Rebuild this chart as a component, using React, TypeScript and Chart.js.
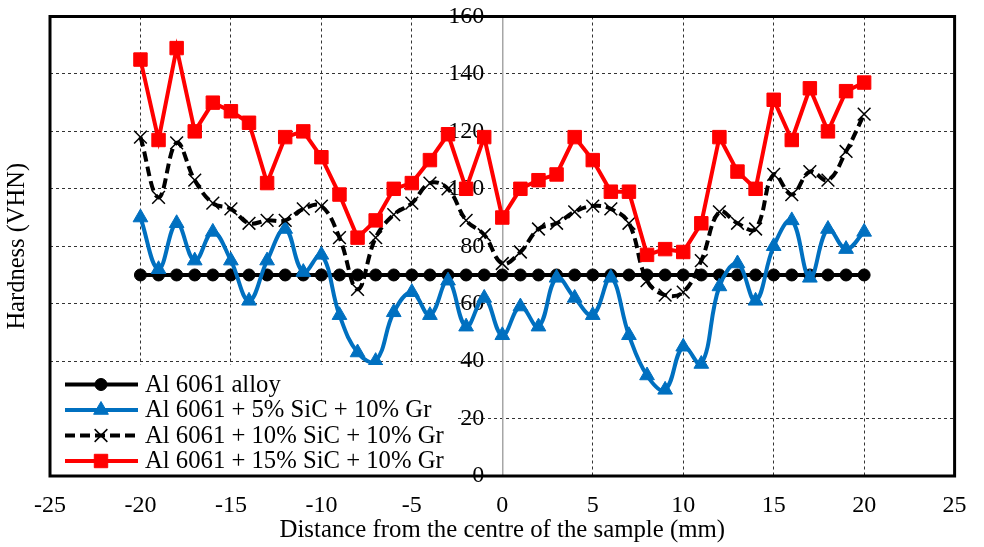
import React, { useEffect, useRef } from 'react';
import { Chart, registerables } from 'chart.js';

Chart.register(...registerables);

// Distance from the centre (mm)
const distances = [
  -20, -19, -18, -17, -16, -15, -14, -13, -12, -11,
  -10, -9, -8, -7, -6, -5, -4, -3, -2, -1,
  0,
  1, 2, 3, 4, 5, 6, 7, 8, 9, 10,
  11, 12, 13, 14, 15, 16, 17, 18, 19, 20,
];

const seriesLabels = [
  'Al 6061 alloy',
  'Al 6061 + 5% SiC + 10% Gr',
  'Al 6061 + 10% SiC + 10% Gr',
  'Al 6061 + 15% SiC + 10% Gr',
];

const alloy = [
  70, 70, 70, 70, 70, 70, 70, 70, 70, 70,
  70, 70, 70, 70, 70, 70, 70, 70, 70, 70,
  70,
  70, 70, 70, 70, 70, 70, 70, 70, 70, 70,
  70, 70, 70, 70, 70, 70, 70, 70, 70, 70,
];

const sic5 = [
  90, 72, 88, 75, 85, 75, 61, 75, 86, 71,
  77, 56, 43, 40, 57, 64, 56, 68, 52, 62,
  49,
  59, 52, 69, 62, 56, 69, 49, 35, 30, 45,
  39, 66, 74, 61, 80, 89, 69, 86, 79, 85,
];

const sic10 = [
  118, 97, 116, 103, 95, 93, 88, 89, 89, 93,
  94, 83, 65, 83, 91, 95, 102, 100, 89, 84,
  74,
  78, 86, 88, 92, 94, 93, 88, 68, 63, 64,
  75, 92, 88, 86, 105, 98, 106, 103, 113, 126,
];

const sic15 = [
  145, 117, 149, 120, 130, 127, 123, 102, 118, 120,
  111, 98, 83, 89, 100, 102, 110, 119, 100, 118,
  90,
  100, 103, 105, 118, 110, 99, 99, 77, 79, 78,
  88, 118, 106, 100, 131, 117, 135, 120, 134, 137,
];

const xTitle = 'Distance from the centre of the sample (mm)';
const yTitle = 'Hardness (VHN)';

const SERIF = "'Liberation Serif', 'Times New Roman', serif";

const toPoints = (ys: number[]) => ys.map((y, i) => ({ x: distances[i], y }));

function drawMarker(ctx: CanvasRenderingContext2D, ds: any, x: number, y: number) {
  const r = ds.pointRadius;
  const style = ds.pointStyle;
  ctx.save();
  ctx.setLineDash([]);
  ctx.fillStyle = ds.pointBackgroundColor;
  ctx.strokeStyle = ds.pointBorderColor;
  ctx.lineWidth = ds.pointBorderWidth;
  ctx.beginPath();
  if (style === 'circle') {
    ctx.arc(x, y, r, 0, Math.PI * 2);
    ctx.fill();
    ctx.stroke();
  } else if (style === 'triangle') {
    ctx.moveTo(x, y - r);
    ctx.lineTo(x + r * 0.866, y + r / 2);
    ctx.lineTo(x - r * 0.866, y + r / 2);
    ctx.closePath();
    ctx.fill();
    ctx.stroke();
  } else if (style === 'rect') {
    const s = r * Math.SQRT1_2;
    ctx.rect(x - s, y - s, 2 * s, 2 * s);
    ctx.fill();
    ctx.stroke();
  } else if (style === 'crossRot') {
    const d = r * Math.SQRT1_2;
    ctx.moveTo(x - d, y - d);
    ctx.lineTo(x + d, y + d);
    ctx.moveTo(x + d, y - d);
    ctx.lineTo(x - d, y + d);
    ctx.stroke();
  }
  ctx.restore();
}

const legendPlugin = {
  id: 'insideLegend',
  afterDatasetsDraw(chart: any) {
    const { ctx, chartArea } = chart;
    const left = chartArea.left;
    const boxTop = chartArea.bottom - 111;
    ctx.save();
    ctx.fillStyle = '#ffffff';
    ctx.fillRect(left, boxTop, 405, chartArea.bottom - boxTop);
    const order = [0, 1, 2, 3];
    order.forEach((idx, row) => {
      const ds = chart.data.datasets[idx];
      const y = chartArea.bottom - 91.5 + row * 25.5;
      ctx.save();
      ctx.strokeStyle = ds.borderColor;
      ctx.lineWidth = ds.borderWidth;
      ctx.setLineDash(ds.borderDash || []);
      ctx.beginPath();
      ctx.moveTo(left + 15, y);
      ctx.lineTo(left + 88, y);
      ctx.stroke();
      ctx.restore();
      drawMarker(ctx, ds, left + 51, y);
      ctx.fillStyle = '#000';
      ctx.font = `24.7px ${SERIF}`;
      ctx.textBaseline = 'middle';
      ctx.textAlign = 'left';
      ctx.fillText(ds.label, left + 95, y + 1);
    });
    ctx.restore();
  },
};

const framePlugin = {
  id: 'frame',
  afterDraw(chart: any) {
    const { ctx, chartArea } = chart;
    ctx.save();
    ctx.strokeStyle = '#000';
    ctx.lineWidth = 3;
    ctx.setLineDash([]);
    ctx.strokeRect(chartArea.left, chartArea.top, chartArea.right - chartArea.left, chartArea.bottom - chartArea.top);
    ctx.restore();
  },
};

export default function App() {
  const ref = useRef<HTMLCanvasElement>(null);

  useEffect(() => {
    if (!ref.current) return;
    const chart = new Chart(ref.current, {
      type: 'line',
      data: {
        datasets: [
          {
            label: seriesLabels[0],
            data: toPoints(alloy),
            borderColor: '#000000',
            backgroundColor: '#000000',
            borderWidth: 4,
            pointStyle: 'circle',
            pointRadius: 6,
            pointBackgroundColor: '#000000',
            pointBorderColor: '#000000',
            pointBorderWidth: 1,
            tension: 0,
            order: 4,
          },
          {
            label: seriesLabels[1],
            data: toPoints(sic5),
            borderColor: '#0070C0',
            backgroundColor: '#0070C0',
            borderWidth: 4,
            pointStyle: 'triangle',
            pointRadius: 8.5,
            pointBackgroundColor: '#0070C0',
            pointBorderColor: '#0070C0',
            pointBorderWidth: 1,
            tension: 0.4,
            order: 3,
          },
          {
            label: seriesLabels[2],
            data: toPoints(sic10),
            borderColor: '#000000',
            backgroundColor: '#000000',
            borderWidth: 4,
            borderDash: [10, 5],
            pointStyle: 'crossRot',
            pointRadius: 9,
            pointBackgroundColor: '#000000',
            pointBorderColor: '#000000',
            pointBorderWidth: 1.5,
            tension: 0.4,
            order: 2,
          },
          {
            label: seriesLabels[3],
            data: toPoints(sic15),
            borderColor: '#FF0000',
            backgroundColor: '#FF0000',
            borderWidth: 4,
            pointStyle: 'rect',
            pointRadius: 9.5,
            pointBackgroundColor: '#FF0000',
            pointBorderColor: '#FF0000',
            pointBorderWidth: 1,
            tension: 0,
            order: 1,
          },
        ],
      },
      options: {
        responsive: false,
        devicePixelRatio: 1,
        animation: false,
        layout: { padding: { left: 0, right: 26, top: 16.5, bottom: 0 } },
        plugins: {
          legend: { display: false },
          tooltip: { enabled: false },
        },
        scales: {
          x: {
            type: 'linear',
            min: -25,
            max: 25,
            ticks: {
              stepSize: 5,
              color: '#000',
              font: { family: SERIF, size: 24, lineHeight: 1 },
              padding: 17.4,
            },
            grid: {
              color: (c: any) => (c.tick && (c.tick.value === 0 || Math.abs(c.tick.value) === 25) ? 'rgba(0,0,0,0)' : '#333333'),
              lineWidth: 1,
              drawTicks: false,
            },
            border: { display: false, dash: [3, 3] },
            title: {
              display: true,
              text: xTitle,
              color: '#000',
              font: { family: SERIF, size: 24.8, lineHeight: 1 },
              padding: { top: -16.6, bottom: 4 },
            },
          },
          y: {
            type: 'linear',
            position: { x: 0 },
            min: 0,
            max: 160,
            ticks: {
              stepSize: 20,
              color: '#000',
              font: { family: SERIF, size: 24 },
              padding: 0,
              callback: (v: any) => `${v}   `,
            },
            grid: {
              color: (c: any) => (c.tick && (c.tick.value === 0 || c.tick.value === 160) ? 'rgba(0,0,0,0)' : '#333333'),
              lineWidth: 1,
              drawTicks: false,
            },
            border: { display: true, color: '#a6a6a6', width: 1.5, dash: [3, 3] },
          },
          y2: {
            type: 'linear',
            position: 'left',
            min: 0,
            max: 160,
            ticks: { display: false },
            grid: { display: false, drawTicks: false },
            border: { display: false },
            title: {
              display: true,
              text: yTitle,
              color: '#000',
              font: { family: SERIF, size: 24.5, lineHeight: 1.2 },
              padding: { top: 3.3, bottom: 17.3 },
            },
          },
        },
      },
      plugins: [legendPlugin, framePlugin],
    } as any);
    return () => chart.destroy();
  }, []);

  return (
    <div style={{ position: 'fixed', left: 0, top: 0, width: 984, height: 547, background: '#fff' }}>
      <canvas ref={ref} width={984} height={547} style={{ display: 'block', width: 984, height: 547 }} />
    </div>
  );
}
